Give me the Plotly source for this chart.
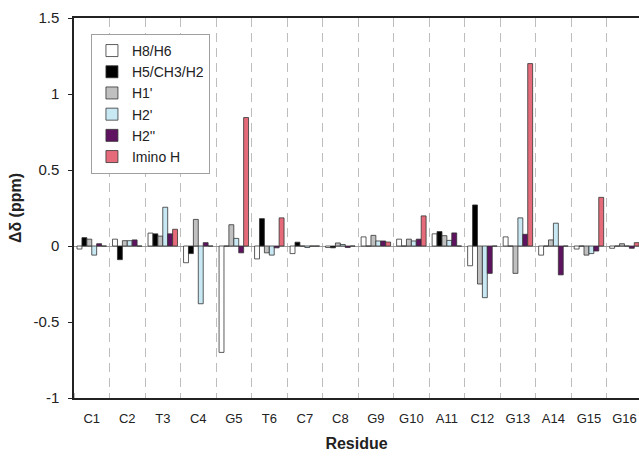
import plotly.graph_objects as go

residues = ["C1", "C2", "T3", "C4", "G5", "T6", "C7", "C8",
            "G9", "G10", "A11", "C12", "G13", "A14", "G15", "G16"]

h8_h6 = [-0.02, 0.045, 0.085, -0.11, -0.70, -0.085, -0.05, -0.01,
         0.06, 0.045, 0.08, -0.13, 0.06, -0.06, -0.02, -0.015]
h5_ch3_h2 = [0.055, -0.09, 0.08, -0.05, 0.0, 0.18, 0.025, -0.012,
             0.0, 0.0, 0.095, 0.27, 0.0, 0.0, 0.0, 0.0]
h1p = [0.045, 0.035, 0.065, 0.175, 0.14, -0.045, 0.0, 0.02,
       0.07, 0.045, 0.068, -0.25, -0.18, 0.04, -0.06, 0.015]
h2p = [-0.06, 0.035, 0.255, -0.38, 0.05, -0.06, -0.01, 0.01,
       0.033, 0.033, 0.037, -0.34, 0.185, 0.15, -0.05, 0.0]
h2pp = [0.015, 0.04, 0.08, 0.022, -0.045, -0.012, 0.0, -0.01,
        0.033, 0.045, 0.086, -0.18, 0.077, -0.19, -0.033, -0.015]
imino = [0.0, 0.0, 0.11, 0.0, 0.845, 0.185, 0.0, 0.0,
         0.026, 0.198, 0.0, 0.0, 1.20, 0.0, 0.32, 0.022]

series = [
    ("H8/H6", h8_h6, "#ffffff"),
    ("H5/CH3/H2", h5_ch3_h2, "#000000"),
    ("H1'", h1p, "#c0c0c0"),
    ("H2'", h2p, "#c8e8f4"),
    ("H2''", h2pp, "#5e1260"),
    ("Imino H", imino, "#e56b7a"),
]

y_ticks = [1.5, 1, 0.5, 0, -0.5, -1]
y_ticktext = ["1.5", "1", "0.5", "0", "-0.5", "-1"]

xpos = list(range(len(residues)))

fig = go.Figure()
for name, vals, color in series:
    fig.add_trace(go.Bar(
        x=xpos, y=vals, name=name,
        marker=dict(color=color, line=dict(color="#333333", width=0.8)),
    ))

font_family = "Arial, Liberation Sans, sans-serif"

fig.update_layout(
    width=639, height=459,
    margin=dict(l=74, r=0, t=18, b=61),
    paper_bgcolor="white", plot_bgcolor="white",
    barmode="group", bargap=0.17, bargroupgap=0.0,
    font=dict(family=font_family, size=13, color="#222222"),
    showlegend=True,
    legend=dict(
        x=0.03, y=0.958, xanchor="left", yanchor="top",
        bgcolor="white", bordercolor="#a0a0a0", borderwidth=1,
        font=dict(size=14, color="#222222"),
        itemwidth=30, tracegroupgap=0,
    ),
    xaxis=dict(
        range=[-0.5, len(residues) - 0.59],
        tickmode="array", tickvals=xpos, ticktext=residues,
        ticks="", showgrid=False, zeroline=False,
        showline=True, linecolor="#222222", linewidth=1.5, mirror=True,
        tickfont=dict(size=13),
        ticklabelstandoff=8,
        minor=dict(tick0=0.5, dtick=1, showgrid=True, gridcolor="#bdbdbd",
                   griddash="9px,6px", gridwidth=1.2,
                   ticks="inside", ticklen=5, tickcolor="#bdbdbd"),
        title=dict(text="<b>Residue</b>", font=dict(size=16), standoff=12),
    ),
    yaxis=dict(
        range=[-1, 1.5],
        tickmode="array", tickvals=y_ticks, ticktext=y_ticktext,
        ticks="outside", ticklen=4, tickcolor="#222222",
        showgrid=False,
        zeroline=True, zerolinecolor="#9a9a9a", zerolinewidth=1,
        showline=True, linecolor="#222222", linewidth=1.5,
        tickfont=dict(size=15),
        ticklabelstandoff=6,
        title=dict(text="<b>Δδ (ppm)</b>", font=dict(size=16), standoff=8),
    ),
)

fig.write_html("out.html")
